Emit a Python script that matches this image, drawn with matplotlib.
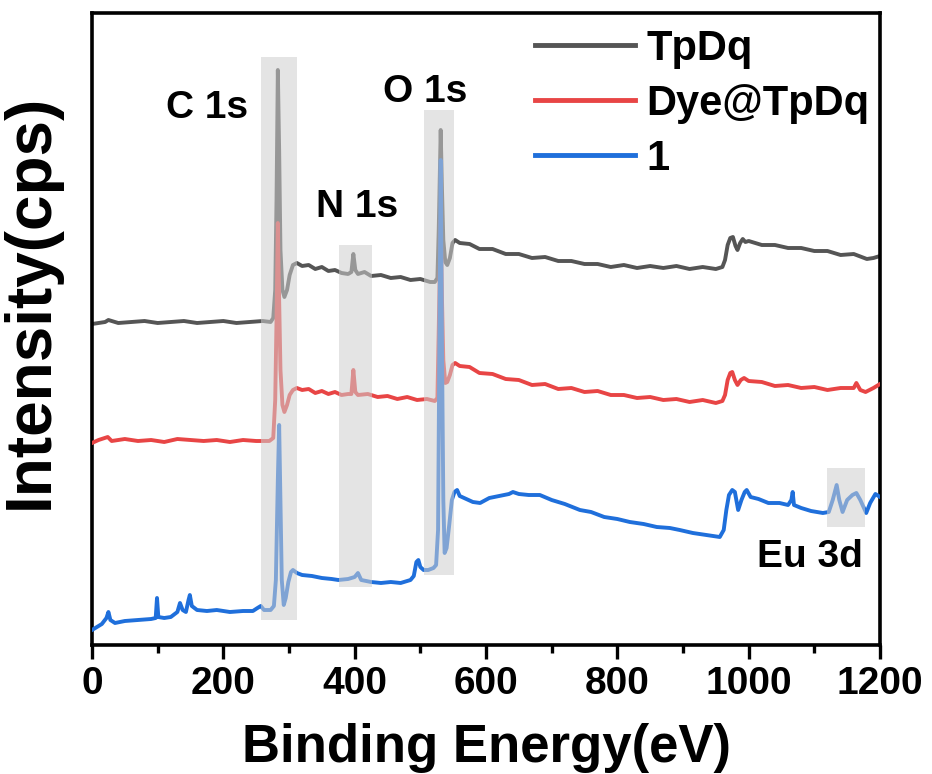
import numpy as np
import matplotlib
matplotlib.use('Agg')
import matplotlib.pyplot as plt
from matplotlib.patches import Rectangle

plt.rcParams['font.family'] = ['Liberation Sans', 'DejaVu Sans']
plt.rcParams['font.weight'] = 'bold'

# --- data (binding energy in eV, intensity in arb. counts) ---
e_tpdq = [0, 20, 25, 40, 60, 80, 100, 120, 140, 160, 180, 200, 220, 240, 260, 272,
          276, 279, 281, 283, 285, 287, 290, 293, 297, 301, 306, 312, 320, 330, 340,
          350, 360, 370, 380, 390, 395, 398, 401, 405, 415, 425, 440, 455, 470, 485,
          500, 515, 522, 526, 528, 531, 533, 535, 538, 541, 545, 549, 553, 560, 575,
          590, 610, 630, 650, 670, 690, 710, 730, 750, 770, 790, 810, 830, 850, 870,
          890, 910, 930, 950, 960, 964, 968, 972, 976, 980, 983, 987, 991, 995, 1000,
          1020, 1040, 1060, 1080, 1100, 1120, 1140, 1160, 1180, 1190, 1200]
i_tpdq = [321, 323, 325, 322, 323, 324, 322, 323, 324, 322, 323, 324, 322, 323, 324, 323,
          327, 355, 445, 575, 495, 395, 355, 348, 355, 370, 380, 382, 379, 380, 376,
          378, 374, 375, 372, 371, 373, 391, 375, 371, 373, 369, 370, 367, 368, 365,
          366, 363, 363, 367, 415, 515, 455, 405, 383, 380, 387, 402, 405, 402, 401,
          396, 396, 391, 391, 387, 388, 384, 384, 381, 381, 378, 380, 377, 379, 377,
          379, 376, 378, 376, 378, 385, 400, 407, 408, 399, 395, 402, 406, 403, 404,
          400, 400, 397, 397, 394, 394, 390, 391, 386, 387, 389]

e_dye = [0, 10, 24, 30, 50, 70, 90, 110, 130, 150, 170, 190, 210, 230, 250, 270,
         276, 279, 281, 283, 285, 287, 290, 293, 297, 301, 306, 312, 320, 330, 340,
         350, 360, 370, 380, 390, 395, 398, 401, 405, 420, 435, 450, 465, 480, 495,
         510, 522, 526, 528, 531, 533, 535, 538, 541, 545, 549, 553, 560, 575, 590,
         610, 630, 650, 670, 690, 710, 730, 750, 770, 790, 810, 830, 850, 870, 890,
         910, 930, 950, 960, 964, 968, 972, 975, 979, 983, 988, 993, 1000, 1020, 1040,
         1060, 1080, 1100, 1120, 1140, 1160, 1164, 1170, 1178, 1190, 1200]
i_dye = [202, 205, 208, 204, 206, 204, 205, 203, 206, 205, 204, 205, 203, 205, 204, 204,
         207, 245, 325, 422, 345, 275, 240, 233, 240, 250, 255, 257, 255, 256, 252,
         254, 251, 253, 250, 251, 251, 275, 253, 250, 251, 248, 249, 246, 248, 245,
         246, 244, 247, 315, 425, 345, 285, 262, 263, 270, 280, 282, 279, 278, 272,
         271, 266, 265, 260, 261, 256, 257, 253, 254, 250, 250, 247, 248, 245, 246,
         243, 245, 242, 244, 250, 265, 272, 273, 265, 260, 265, 267, 264, 263, 259,
         260, 257, 258, 255, 257, 257, 262, 255, 253, 257, 261]

e_eu = [0, 5, 15, 22, 25, 28, 35, 50, 70, 90, 97, 99, 101, 110, 120, 130, 134, 138,
        143, 147, 149, 152, 160, 175, 190, 210, 230, 245, 252, 257, 262, 272, 277,
        280, 283, 285, 287, 289, 292, 295, 299, 303, 306, 312, 320, 335, 350, 365,
        375, 390, 400, 405, 410, 425, 440, 455, 470, 485, 490, 494, 497, 500, 505,
        512, 520, 524, 527, 529, 531, 533, 535, 537, 540, 544, 548, 552, 556, 560,
        570, 580, 591, 605, 620, 635, 641, 650, 665, 682, 700, 720, 743, 760, 780,
        800, 819, 840, 860, 880, 895, 915, 935, 956, 962, 966, 970, 975, 979, 984,
        989, 994, 997, 1003, 1015, 1030, 1047, 1060, 1065, 1067, 1069, 1080, 1095,
        1113, 1122, 1128, 1134, 1138, 1143, 1150, 1158, 1164, 1170, 1179, 1185, 1193,
        1200]
i_eu = [15, 17, 21, 27, 33, 25, 22, 24, 25, 26, 27, 47, 28, 27, 28, 33, 42, 35,
        33, 45, 50, 39, 35, 34, 35, 33, 34, 34, 37, 39, 35, 35, 39,
        65, 165, 220, 145, 65, 40, 47, 63, 73, 75, 72, 70, 69, 67, 66,
        65, 66, 68, 72, 65, 63, 62, 63, 62, 65, 69, 83, 85, 78, 75,
        75, 77, 80, 115, 295, 485, 295, 145, 92, 97, 120, 145, 153, 155, 149,
        146, 143, 142, 147, 149, 151, 153, 151, 150, 150, 145, 141, 135, 133, 128,
        126, 123, 121, 118, 117, 115, 112, 110, 108, 115, 135, 150, 155, 153, 135,
        145, 153, 155, 148, 146, 142, 142, 140, 145, 153, 140, 137, 134,
        132, 133, 145, 160, 145, 133, 145, 150, 152, 145, 132, 142, 151,
        148]

labels = ['TpDq', 'Dye@TpDq', '1']
colors = ['#555555', '#e84545', '#1f6fdb']

# shaded peak regions: (x0, x1, y0, y1)
regions = [(257, 312, 25, 588), (376, 426, 58, 400), (505, 551, 70, 535), (1120, 1177, 118, 177)]
peak_names = ['C 1s', 'N 1s', 'O 1s', 'Eu 3d']
peak_pos = [(175, 537), (403, 438), (507, 553), (1093, 88)]

fig = plt.figure(figsize=(9.32, 7.74), dpi=100)
ax = fig.add_axes([92/932, 1-645/774, 788/932, 632/774])

ax.plot(e_tpdq, i_tpdq, color=colors[0], lw=2.8, label=labels[0], zorder=2)
ax.plot(e_dye, i_dye, color=colors[1], lw=2.8, label=labels[1], zorder=3)
ax.plot(e_eu, i_eu, color=colors[2], lw=2.8, label=labels[2], zorder=4)

for (x0, x1, y0, y1) in regions:
    ax.add_patch(Rectangle((x0, y0), x1-x0, y1-y0, facecolor='#cfcfcf', alpha=0.55,
                           edgecolor='none', zorder=5))

for name, (px, py) in zip(peak_names, peak_pos):
    ax.text(px, py, name, fontsize=28, fontweight='bold', ha='center', va='center', zorder=6)

ax.set_xlim(0, 1200)
ax.set_ylim(0, 632)
ax.set_xticks(np.arange(0, 1201, 200))
ax.set_xticks(np.arange(100, 1200, 200), minor=True)
ax.set_yticks([])
ax.tick_params(axis='x', which='major', length=10, width=2.4, labelsize=28, pad=5)
ax.tick_params(axis='x', which='minor', length=6, width=2.4)
for lab in ax.get_xticklabels():
    lab.set_fontweight('bold')
for sp in ax.spines.values():
    sp.set_linewidth(2.6)

ax.set_xlabel('Binding Energy(eV)', fontsize=38, fontweight='bold', labelpad=15)
ax.set_ylabel('Intensity(cps)', fontsize=46, fontweight='bold')
ax.yaxis.set_label_coords(-0.040, 0.543)

leg = ax.legend(loc='upper left', bbox_to_anchor=(535/932, 1-29/774), bbox_transform=fig.transFigure,
                frameon=False, handlelength=2.4, handletextpad=0.28,
                borderpad=0, borderaxespad=0, labelspacing=0.36, prop={'weight': 'bold', 'size': 30})
for ln in leg.get_lines():
    ln.set_linewidth(3.5)

fig.savefig('out.png', dpi=100)
